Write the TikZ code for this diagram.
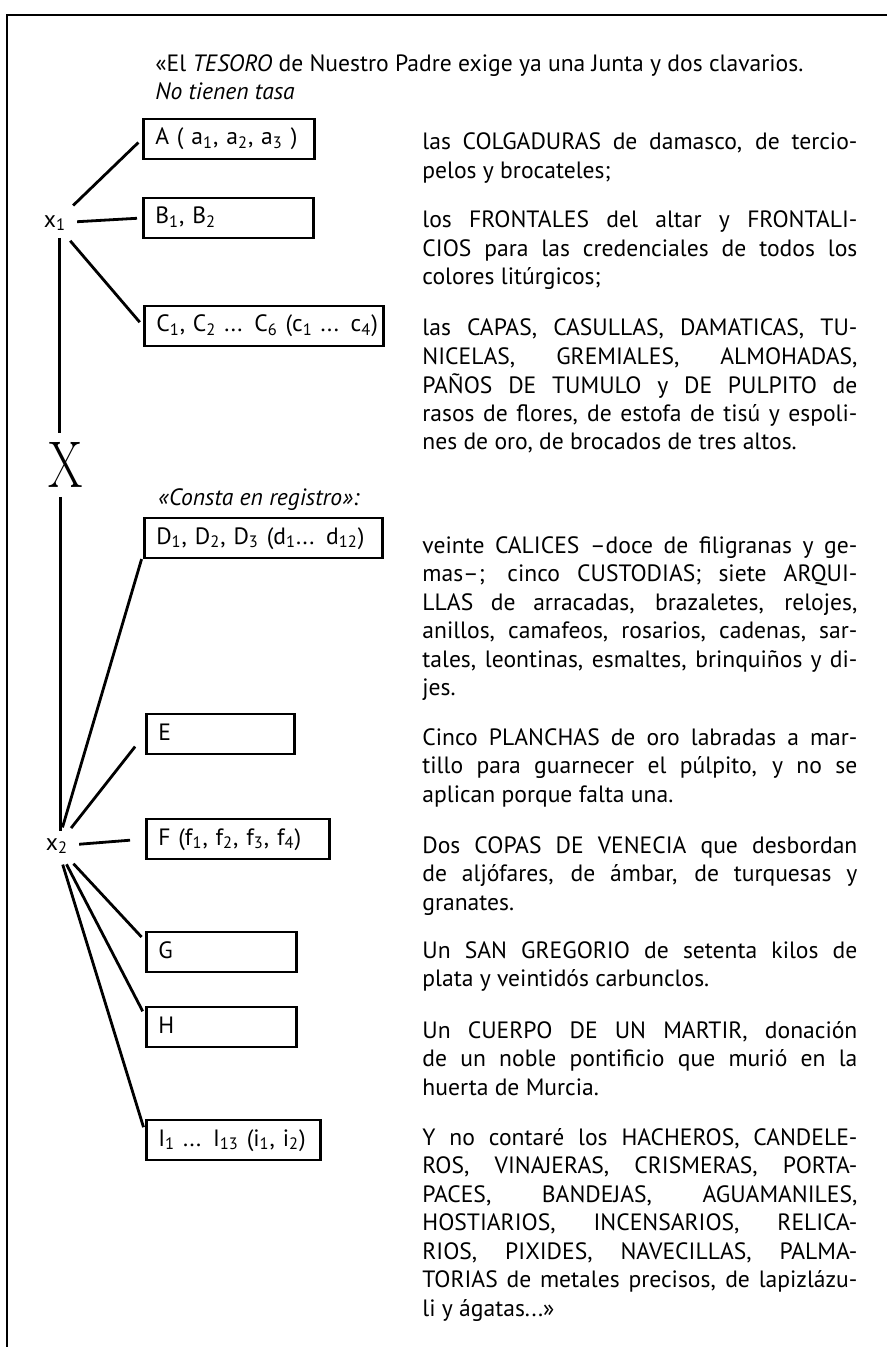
\documentclass[tikz,border=0pt]{standalone}
\usepackage{fontspec}
\usepackage{graphicx}
\newfontfamily\bodyfont{PT Sans}
\newcommand\bodytext{\bodyfont\fontsize{11.8}{14.25}\selectfont}
\tikzset{
  frame/.style={line width=1pt},
  item/.style={draw, line width=1.3pt, anchor=west, minimum height=20pt, inner xsep=6pt,
    text width=#1, align=left, text height=8.5pt, text depth=2.5pt},
  spoke/.style={line width=1.4pt, shorten <=2pt, shorten >=2.5pt},
  spine/.style={line width=1.5pt},
  para/.style={anchor=base west, inner sep=0pt, text width=217.5pt, align=justify},
  head/.style={anchor=base west, inner sep=0pt},
}
\begin{document}
\begin{tikzpicture}[x=0.5pt, y=-0.5pt, font=\bodytext]
\useasboundingbox (0,0) rectangle (887,1347);
\draw[frame] (887,15) -- (7,15) -- (7,1347);

\node[head] (title) at (155,72) {«El \textit{TESORO} de Nuestro Padre exige ya una Junta y dos clavarios.};
\node[head] (tasa) at (155,100) {\textit{No tienen tasa}};
\node[head] (consta) at (158,505) {\textit{«Consta en registro»:}};

\node (x1) at (55,223) {x\textsubscript{1}};
\node (x2) at (57,846) {x\textsubscript{2}};
\node[inner sep=4.5pt, font=\rmfamily\fontsize{33}{33}\selectfont] (bigX) at (66,465) {\scalebox{0.75}[1]{X}};

\node[item=73.5pt] (A) at (142,139) {\mbox{A ( a\textsubscript{1}, a\textsubscript{2}, a\textsubscript{3} )}};
\node[item=73pt] (B) at (142,218) {B\textsubscript{1}, B\textsubscript{2}};
\node[item=107.5pt] (C) at (143,326) {\mbox{C\textsubscript{1}, C\textsubscript{2} ... C\textsubscript{6} (c\textsubscript{1} ... c\textsubscript{4})}};
\node[item=107pt] (D) at (143,538) {\mbox{D\textsubscript{1}, D\textsubscript{2}, D\textsubscript{3} (d\textsubscript{1}... d\textsubscript{12})}};
\node[item=62pt] (E) at (145,734) {E};
\node[item=79.5pt] (F) at (145,839) {\mbox{F (f\textsubscript{1}, f\textsubscript{2}, f\textsubscript{3}, f\textsubscript{4})}};
\node[item=63pt] (G) at (145,952) {G};
\node[item=63pt] (H) at (145,1027) {H};
\node[item=75pt] (I) at (145,1140) {\mbox{I\textsubscript{1} ... I\textsubscript{13} (i\textsubscript{1}, i\textsubscript{2})}};

\node[para] (pA) at (422,150) {las COLGADURAS de damasco, de tercio-\linebreak
  pelos y brocateles;};
\node[para] (pB) at (422,228) {los FRONTALES del altar y FRONTALI-\linebreak
  CIOS para las credenciales de todos los\linebreak
  colores litúrgicos;};
\node[para] (pC) at (422,336) {las CAPAS, CASULLAS, DAMATICAS, TU-\linebreak
  NICELAS, GREMIALES, ALMOHADAS,\linebreak
  PAÑOS DE TUMULO y DE PULPITO de\linebreak
  rasos de flores, de estofa de tisú y espoli-\linebreak
  nes de oro, de brocados de tres altos.};
\node[para] (pD) at (422,553) {veinte CALICES –doce de filigranas y ge-\linebreak
  mas–; cinco CUSTODIAS; siete ARQUI-\linebreak
  LLAS de arracadas, brazaletes, relojes,\linebreak
  anillos, camafeos, rosarios, cadenas, sar-\linebreak
  tales, leontinas, esmaltes, brinquiños y di-\linebreak
  jes.};
\node[para] (pE) at (422,745) {Cinco PLANCHAS de oro labradas a mar-\linebreak
  tillo para guarnecer el púlpito, y no se\linebreak
  aplican porque falta una.};
\node[para] (pF) at (422,853) {Dos COPAS DE VENECIA que desbordan\linebreak
  de aljófares, de ámbar, de turquesas y\linebreak
  granates.};
\node[para] (pG) at (422,958) {Un SAN GREGORIO de setenta kilos de\linebreak
  plata y veintidós carbunclos.};
\node[para] (pH) at (422,1038) {Un CUERPO DE UN MARTIR, donación\linebreak
  de un noble pontificio que murió en la\linebreak
  huerta de Murcia.};
\node[para] (pI) at (422,1145) {Y no contaré los HACHEROS, CANDELE-\linebreak
  ROS, VINAJERAS, CRISMERAS, PORTA-\linebreak
  PACES, BANDEJAS, AGUAMANILES,\linebreak
  HOSTIARIOS, INCENSARIOS, RELICA-\linebreak
  RIOS, PIXIDES, NAVECILLAS, PALMA-\linebreak
  TORIAS de metales precisos, de lapizlázu-\linebreak
  li y ágatas...»};

\draw[spine] ([xshift=2pt]x1.south) -- ([xshift=2pt]x1.south |- bigX.north);
\draw[spine] ([xshift=1.5pt]x2.north |- bigX.south) -- ([xshift=1.5pt]x2.north);

\draw[spoke] (x1) -- (A.west);
\draw[spoke] (x1) -- (B.west);
\draw[spoke] (x1) -- (C.west);
\draw[spoke] (x2) -- ([yshift=2.5pt]D.south west);
\draw[spoke, shorten >=8pt] (x2) -- (E.west);
\draw[spoke, shorten >=7.5pt] (x2) -- (F.west);
\draw[spoke] (x2) -- ([yshift=-5pt]G.north west);
\draw[spoke] (x2) -- ([yshift=-5pt]H.north west);
\draw[spoke] (x2) -- ([yshift=4pt]I.west);
\end{tikzpicture}
\end{document}
